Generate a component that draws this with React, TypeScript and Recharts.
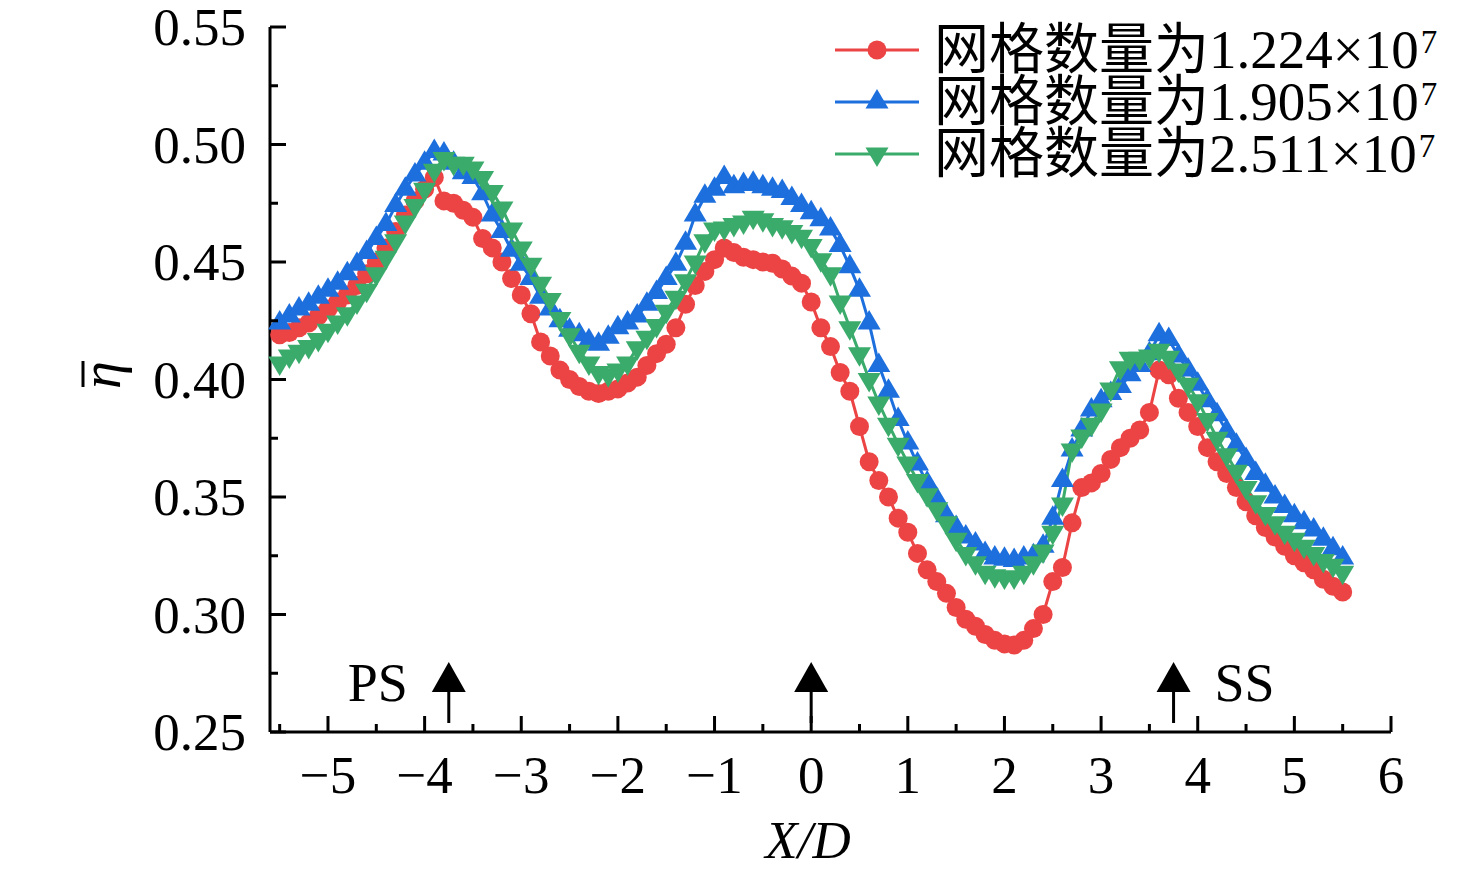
import { Line, LineChart, ReferenceDot, XAxis, YAxis } from "recharts";

const xs = [
  -5.5, -5.4, -5.3, -5.2, -5.1, -5.0, -4.9, -4.8, -4.7, -4.6,
  -4.5, -4.4, -4.3, -4.2, -4.1, -4.0, -3.9, -3.8, -3.7, -3.6,
  -3.5, -3.4, -3.3, -3.2, -3.1, -3.0, -2.9, -2.8, -2.7, -2.6,
  -2.5, -2.4, -2.3, -2.2, -2.1, -2.0, -1.9, -1.8, -1.7, -1.6,
  -1.5, -1.4, -1.3, -1.2, -1.1, -1.0, -0.9, -0.8, -0.7, -0.6,
  -0.5, -0.4, -0.3, -0.2, -0.1, 0.0, 0.1, 0.2, 0.3, 0.4,
  0.5, 0.6, 0.7, 0.8, 0.9, 1.0, 1.1, 1.2, 1.3, 1.4,
  1.5, 1.6, 1.7, 1.8, 1.9, 2.0, 2.1, 2.2, 2.3, 2.4,
  2.5, 2.6, 2.7, 2.8, 2.9, 3.0, 3.1, 3.2, 3.3, 3.4,
  3.5, 3.6, 3.7, 3.8, 3.9, 4.0, 4.1, 4.2, 4.3, 4.4,
  4.5, 4.6, 4.7, 4.8, 4.9, 5.0, 5.1, 5.2, 5.3, 5.4,
  5.5,
];

// 网格数量为1.224×10^7
const grid1224 = [
  0.419, 0.420, 0.422, 0.424, 0.427, 0.430, 0.433, 0.436, 0.440, 0.445,
  0.450, 0.456, 0.463, 0.470, 0.476, 0.481, 0.486, 0.476, 0.475, 0.472,
  0.469, 0.460, 0.456, 0.450, 0.443, 0.436, 0.428, 0.416, 0.410, 0.404,
  0.400, 0.397, 0.395, 0.394, 0.395, 0.396, 0.3985, 0.401, 0.406, 0.411,
  0.415, 0.422, 0.432, 0.440, 0.446, 0.451, 0.456, 0.454, 0.452, 0.451,
  0.450, 0.4495, 0.447, 0.444, 0.441, 0.433, 0.422, 0.414, 0.403, 0.395,
  0.380, 0.365, 0.357, 0.350, 0.341, 0.335, 0.326, 0.319, 0.314, 0.309,
  0.303, 0.298, 0.295, 0.2915, 0.289, 0.2875, 0.287, 0.289, 0.294, 0.300,
  0.314, 0.320, 0.339, 0.354, 0.356, 0.360, 0.366, 0.371, 0.375, 0.3785,
  0.386, 0.404, 0.402, 0.392, 0.386, 0.380, 0.371, 0.365, 0.360, 0.354,
  0.348, 0.342, 0.337, 0.333, 0.329, 0.325, 0.322, 0.319, 0.315, 0.312,
  0.3096,
];

// 网格数量为1.905×10^7
const grid1905 = [
  0.424, 0.427, 0.430, 0.432, 0.435, 0.438, 0.441, 0.445, 0.449, 0.454,
  0.460, 0.466, 0.474, 0.481, 0.487, 0.492, 0.497, 0.496, 0.492, 0.488,
  0.486, 0.479, 0.470, 0.463, 0.455, 0.449, 0.443, 0.435, 0.430, 0.425,
  0.421, 0.419, 0.4165, 0.415, 0.418, 0.422, 0.424, 0.427, 0.432, 0.437,
  0.443, 0.449, 0.458, 0.470, 0.478, 0.481, 0.486, 0.482, 0.483, 0.4835,
  0.482, 0.481, 0.480, 0.477, 0.474, 0.471, 0.468, 0.464, 0.457, 0.448,
  0.438, 0.424, 0.406, 0.395, 0.383, 0.373, 0.364, 0.356, 0.349, 0.342,
  0.337, 0.333, 0.330, 0.326, 0.324, 0.3235, 0.323, 0.324, 0.325, 0.329,
  0.341, 0.357, 0.370, 0.3785, 0.387, 0.391, 0.394, 0.397, 0.402, 0.406,
  0.411, 0.419, 0.417, 0.410, 0.404, 0.398, 0.391, 0.385, 0.378, 0.372,
  0.366, 0.360, 0.355, 0.350, 0.346, 0.342, 0.339, 0.336, 0.332, 0.328,
  0.324,
];

// 网格数量为2.511×10^7
const grid2511 = [
  0.407, 0.410, 0.412, 0.414, 0.417, 0.421, 0.4245, 0.428, 0.433, 0.438,
  0.445, 0.452, 0.459, 0.467, 0.474, 0.481, 0.489, 0.494, 0.492, 0.492,
  0.490, 0.486, 0.480, 0.473, 0.464, 0.456, 0.449, 0.441, 0.434, 0.426,
  0.419, 0.412, 0.407, 0.403, 0.402, 0.404, 0.407, 0.4135, 0.418, 0.423,
  0.429, 0.435, 0.442, 0.450, 0.459, 0.464, 0.4645, 0.466, 0.467, 0.469,
  0.468, 0.466, 0.465, 0.463, 0.461, 0.457, 0.451, 0.445, 0.433, 0.422,
  0.411, 0.400, 0.390, 0.381, 0.3725, 0.3645, 0.357, 0.351, 0.345, 0.339,
  0.332, 0.326, 0.322, 0.318, 0.3165, 0.316, 0.316, 0.318, 0.322, 0.327,
  0.335, 0.347, 0.370, 0.376, 0.381, 0.387, 0.396, 0.405, 0.409, 0.409,
  0.410, 0.4125, 0.4095, 0.404, 0.398, 0.391, 0.383, 0.375, 0.368, 0.361,
  0.354, 0.348, 0.343, 0.339, 0.335, 0.332, 0.329, 0.326, 0.323, 0.321,
  0.318,
];

const xTicks = [
  -5.5, -5, -4.5, -4, -3.5, -3, -2.5, -2, -1.5, -1, -0.5, 0, 0.5, 1, 1.5, 2,
  2.5, 3, 3.5, 4, 4.5, 5, 5.5, 6,
];
const yTicks = [0.25, 0.275, 0.3, 0.325, 0.35, 0.375, 0.4, 0.425, 0.45, 0.475, 0.5, 0.525, 0.55];

const markers = [
  { x: -3.75, text: "PS", side: "left" },
  { x: 0, text: "", side: "left" },
  { x: 3.75, text: "SS", side: "right" },
];

const series = [
  { key: "g1", mant: "1.224", color: "#EC4444", shape: "circle" },
  { key: "g2", mant: "1.905", color: "#1C6FDD", shape: "up" },
  { key: "g3", mant: "2.511", color: "#3AAB6B", shape: "down" },
];

const data = xs.map((x, i) => ({
  x,
  g1: grid1224[i],
  g2: grid1905[i],
  g3: grid2511[i],
}));

const FONT = '"Liberation Serif", "Times New Roman", "Noto Sans CJK SC", serif';

function markerPath(shape: string, cx: number, cy: number, color: string) {
  if (shape === "circle") return <circle cx={cx} cy={cy} r={9.5} fill={color} />;
  const h = 13;
  const w = 11.5;
  const pts =
    shape === "up"
      ? `${cx},${cy - h} ${cx - w},${cy + h / 2} ${cx + w},${cy + h / 2}`
      : `${cx},${cy + h} ${cx - w},${cy - h / 2} ${cx + w},${cy - h / 2}`;
  return <polygon points={pts} fill={color} />;
}

function makeDot(shape: string, color: string) {
  return (props: any) => {
    const { cx, cy, index } = props;
    if (cx == null || cy == null) return <g key={index} />;
    return <g key={`${shape}-${index}`}>{markerPath(shape, cx, cy, color)}</g>;
  };
}

function XTick(props: any) {
  const { x, y, payload } = props;
  const v = payload.value;
  const major = Number.isInteger(v);
  const label = v < 0 ? `\u2212${Math.abs(v)}` : `${v}`;
  return (
    <g>
      <line x1={x} x2={x} y1={y} y2={y - (major ? 16 : 8)} stroke="#000" strokeWidth={3} />
      {major && (
        <text x={x} y={y + 61} textAnchor="middle" fontFamily={FONT} fontSize={53} fill="#000">
          {label}
        </text>
      )}
    </g>
  );
}

function YTick(props: any) {
  const { x, y, payload } = props;
  const v = payload.value;
  const major = Math.round(v * 1000) % 50 === 0;
  return (
    <g>
      <line x1={x} x2={x + (major ? 16 : 8)} y1={y} y2={y} stroke="#000" strokeWidth={3} />
      {major && (
        <text x={x - 24} y={y + 18} textAnchor="end" fontFamily={FONT} fontSize={53} fill="#000">
          {v.toFixed(2)}
        </text>
      )}
    </g>
  );
}

function Arrow(props: any) {
  const { cx, cy, text, side } = props;
  return (
    <g>
      <line x1={cx} x2={cx} y1={cy - 9} y2={cy - 44} stroke="#000" strokeWidth={3} />
      <polygon points={`${cx},${cy - 70} ${cx - 17},${cy - 40} ${cx + 17},${cy - 40}`} fill="#000" />
      {text && (
        <text
          x={side === "left" ? cx - 41 : cx + 41}
          y={cy - 31}
          textAnchor={side === "left" ? "end" : "start"}
          fontFamily={FONT}
          fontSize={54}
          fill="#000"
        >
          {text}
        </text>
      )}
    </g>
  );
}

function EtaLabel() {
  return (
    <g transform="translate(113,375) rotate(-90)">
      <text x={0} y={7} textAnchor="middle" fontFamily={FONT} fontStyle="italic" fontSize={56} fill="#000">
        η
      </text>
      <line x1={-12} x2={14} y1={-30} y2={-30} stroke="#000" strokeWidth={3} />
    </g>
  );
}

function GridLegend() {
  return (
    <div style={{ position: "absolute", left: 832, top: 24, fontFamily: FONT }}>
      {series.map((s) => (
        <div key={s.key} style={{ display: "flex", alignItems: "center", height: 52 }}>
          <svg width={90} height={40} style={{ marginRight: 12 }}>
            <line x1={3} x2={87} y1={20} y2={20} stroke={s.color} strokeWidth={3} />
            {markerPath(s.shape, 45, 20, s.color)}
          </svg>
          <span style={{ fontSize: 55, lineHeight: "52px", whiteSpace: "nowrap", color: "#000" }}>
            网格数量为{s.mant}×10
          </span>
          <span style={{ fontSize: 33, lineHeight: "33px", alignSelf: "flex-start", marginTop: 2, marginLeft: 2, color: "#000" }}>
            7
          </span>
        </div>
      ))}
    </div>
  );
}

export default function App() {
  return (
    <div style={{ position: "absolute", left: 0, top: 0, width: 1476, height: 876, background: "#fff" }}>
      <LineChart
        width={1476}
        height={876}
        data={data}
        margin={{ top: 27, right: 85, bottom: 84, left: 170 }}
      >
        <XAxis
          dataKey="x"
          type="number"
          domain={[-5.6, 6]}
          ticks={xTicks}
          interval={0}
          height={60}
          tickSize={0}
          tickMargin={0}
          tickLine={false}
          axisLine={{ stroke: "#000", strokeWidth: 3 }}
          tick={<XTick />}
          label={() => (
            <text x={808} y={858} textAnchor="middle" fontFamily={FONT} fontStyle="italic" fontSize={53} fill="#000">
              X/D
            </text>
          )}
        />
        <YAxis
          type="number"
          domain={[0.25, 0.55]}
          ticks={yTicks}
          interval={0}
          width={100}
          tickSize={0}
          tickMargin={0}
          tickLine={false}
          axisLine={{ stroke: "#000", strokeWidth: 3 }}
          tick={<YTick />}
          label={() => <EtaLabel />}
        />
        {series.map((s) => (
          <Line
            key={s.key}
            dataKey={s.key}
            type="linear"
            stroke={s.color}
            strokeWidth={3}
            dot={makeDot(s.shape, s.color)}
            activeDot={false}
            isAnimationActive={false}
          />
        ))}
        {markers.map((m) => (
          <ReferenceDot
            key={m.x}
            x={m.x}
            y={0.25}
            r={0}
            ifOverflow="visible"
            shape={(p: any) => <Arrow {...p} text={m.text} side={m.side} />}
          />
        ))}
      </LineChart>
      <GridLegend />
    </div>
  );
}
